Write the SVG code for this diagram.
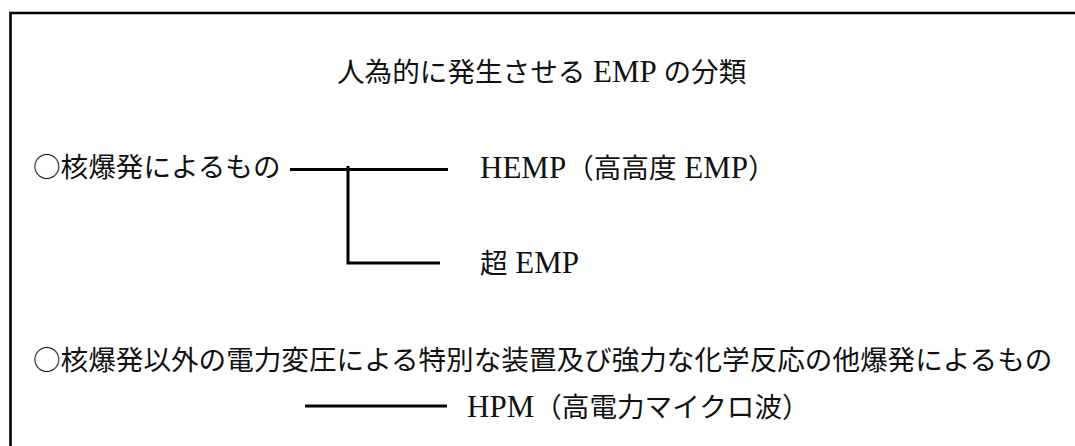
<svg xmlns="http://www.w3.org/2000/svg" width="1075" height="446" viewBox="0 0 1075 446">
<style>
text{font-family:"Liberation Serif","Noto Sans CJK JP",serif;font-size:27.6px;fill:#111;}
.cjk{font-family:"Noto Sans CJK JP","Liberation Serif",serif;}
.lat{font-size:31px;}
.ln{stroke:#000;stroke-width:3;fill:none;}
</style>
<rect width="1075" height="446" fill="#fff"/>
<path d="M10.5,446 V13 H1075" stroke="#000" stroke-width="2.6" fill="none"/>
<g id="title"><text x="337" y="82">人為的に発生させる<tspan class="lat"> EMP </tspan>の分類</text></g>
<g id="nuclear"><text x="33" y="177"><tspan class="cjk">○</tspan>核爆発によるもの</text></g>
<g id="hemp"><text x="480" y="178"><tspan class="lat">HEMP</tspan>（高高度<tspan class="lat"> EMP</tspan>）</text></g>
<g id="super-emp"><text x="480" y="273">超<tspan class="lat"> EMP</tspan></text></g>
<g id="non-nuclear"><text x="33" y="370"><tspan class="cjk">○</tspan>核爆発以外の電力変圧による特別な装置及び強力な化学反応の他爆発によるもの</text></g>
<g id="hpm"><text x="467" y="417"><tspan class="lat">HPM</tspan>（高電力マイクロ波）</text></g>
<g id="connectors">
<path class="ln" d="M290,169.5 H448"/>
<path class="ln" d="M348,166 V263 H440"/>
<path class="ln" d="M305,406 H447"/>
</g>
</svg>
